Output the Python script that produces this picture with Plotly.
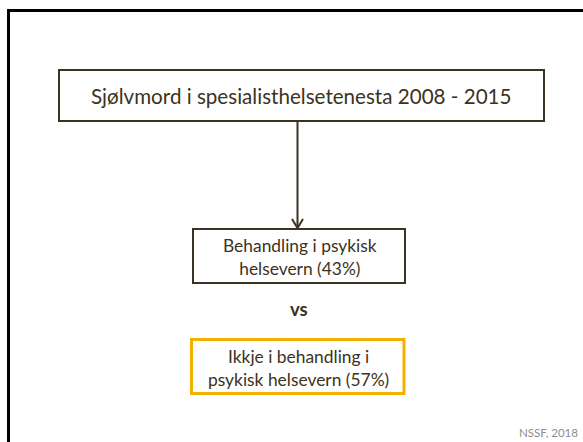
import plotly.graph_objects as go

# Content
title_label = "Sjølvmord i spesialisthelsetenesta 2008 - 2015"
group_labels = ["Behandling i psykisk<br>helsevern", "Ikkje i behandling i<br>psykisk helsevern"]
group_shares = [43, 57]
versus_label = "vs"
source_label = "NSSF, 2018"

W, H = 583, 442
text_col = "#3b3321"
orange = "#F2B100"
font_family = "Lato, 'Open Sans', sans-serif"

fig = go.Figure()

shapes = [
    # slide frame (top and left edges)
    dict(type="line", x0=8.5, x1=8.5, y0=9, y1=H, line=dict(color="black", width=3)),
    dict(type="line", x0=7, x1=W, y0=10.5, y1=10.5, line=dict(color="black", width=3)),
    # top box
    dict(type="rect", x0=59, x1=544, y0=70, y1=121, line=dict(color=text_col, width=2), fillcolor="white"),
    # connector
    dict(type="line", x0=297.5, x1=297.5, y0=121, y1=228, line=dict(color=text_col, width=2)),
    dict(type="path", path="M 292 219 L 297.5 228 L 303 219", line=dict(color=text_col, width=2)),
    # box 2
    dict(type="rect", x0=193, x1=405, y0=229, y1=283, line=dict(color=text_col, width=2), fillcolor="white"),
    # box 3
    dict(type="rect", x0=191.5, x1=404, y0=339.5, y1=393.5, line=dict(color=orange, width=3), fillcolor="white"),
]

annotations = [
    dict(x=301.5, y=96, text=title_label, font=dict(size=20.6, color=text_col, family=font_family)),
    dict(x=299.5, y=257, text=f"{group_labels[0]} ({group_shares[0]}%)",
         font=dict(size=17.4, color=text_col, family=font_family)),
    dict(x=298.5, y=309, text=f"<b>{versus_label}</b>", font=dict(size=18.5, color=text_col, family=font_family)),
    dict(x=298, y=367.5, text=f"{group_labels[1]} ({group_shares[1]}%)",
         font=dict(size=17.4, color=text_col, family=font_family)),
    dict(x=580, y=432, text=source_label, xanchor="right",
         font=dict(size=11.5, color="#8c8c8c", family=font_family)),
]
for a in annotations:
    a.update(xref="x", yref="y", showarrow=False)
    a.setdefault("xanchor", "center")
    a.setdefault("yanchor", "middle")

fig.update_layout(
    width=W, height=H,
    margin=dict(l=0, r=0, t=0, b=0),
    paper_bgcolor="white", plot_bgcolor="white",
    xaxis=dict(range=[0, W], visible=False, fixedrange=True),
    yaxis=dict(range=[H, 0], visible=False, fixedrange=True),
    shapes=shapes,
    annotations=annotations,
    showlegend=False,
)

fig.write_html(
    "out.html",
    config={"displayModeBar": False, "staticPlot": True},
    post_script="document.body.style.margin='0';document.body.style.overflow='hidden';",
)
